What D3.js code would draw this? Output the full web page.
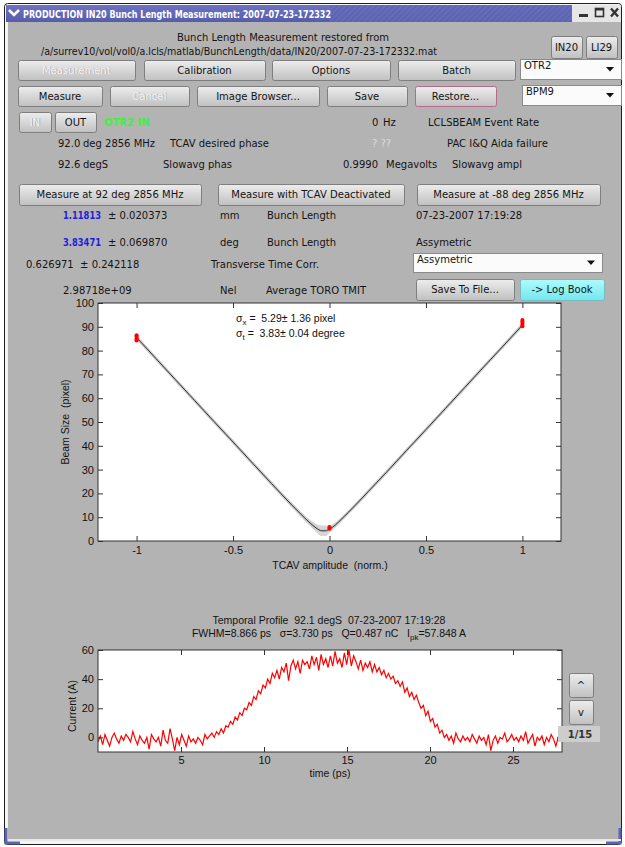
<!DOCTYPE html>
<html><head><meta charset="utf-8">
<script src="https://cdn.jsdelivr.net/npm/d3@7"></script>
<style>body{margin:0;background:#fff;} svg{display:block;} text{white-space:pre;}</style>
</head><body><svg id="c" width="625" height="847"></svg>
<script>
// ---------------- DATA ----------------
// Beam size vs TCAV amplitude (fit curve)
const fitX = [-1,-0.9,-0.8,-0.7,-0.6,-0.5,-0.4,-0.3,-0.2,-0.15,-0.1,-0.07,-0.04,-0.02,0,0.03,0.06,0.1,0.15,0.2,0.3,0.4,0.5,0.6,0.7,0.8,0.9,1];
const fitY = [85.5,76.7,67.9,59.1,50.3,41.6,32.8,24.1,15.5,11.4,7.5,5.5,4.3,4.3,5.0,6.7,9.0,12.2,16.4,20.7,29.3,38.1,46.8,55.6,64.4,73.2,81.9,90.7];
const fitErr = [0.8,0.8,0.8,0.8,0.8,0.8,0.8,0.9,1.0,1.1,1.3,1.7,2.2,2.2,1.5,1.1,0.9,0.8,0.8,0.8,0.8,0.8,0.8,0.8,0.8,0.8,0.8,0.8];
const measX = [-1,-1,-1,-1,-1,0,0,0,1,1,1,1,1];
const measY = [84.2,84.8,85.3,85.9,86.4,5.1,5.5,5.9,90.2,90.9,91.6,92.2,92.9];
const beamXTicks = [-1,-0.5,0,0.5,1];
const beamYTicks = [0,10,20,30,40,50,60,70,80,90,100];

// Temporal profile: current (A), uniformly sampled
const profStart = 0, profStep = 0.14;
const profileY = [
 -3,1,-5,2,-2,-6,0,3,-1,-4,
 1,-2,2,0,-3,4,-1,-5,1,-2,
 -4,0,-8,2,-1,-3,0,-6,5,-2,
 -4,6,-1,-9,0,-5,2,-2,-6,1,
 -3,-1,-4,0,-2,-5,2,-1,1,3,
 0,4,2,6,3,8,7,11,9,14,
 12,17,15,20,19,24,22,28,26,32,
 30,36,34,40,37,44,41,46,40,48,
 45,51,39,49,53,47,52,44,53,50,
 52,47,56,50,55,46,57,50,54,48,
 56,49,59,51,54,48,58,50,60,49,
 56,52,47,53,46,51,48,52,45,50,
 45,48,43,46,41,44,40,42,37,39,
 35,38,31,34,28,31,26,29,24,20,
 22,15,18,11,13,7,9,3,5,0,
 2,-2,1,-4,3,-1,-3,1,-2,0,
 -3,2,-1,-4,1,-2,0,-5,2,-9,
 -2,1,-4,0,-1,3,-3,-1,2,-2,
 0,-3,1,-2,4,-4,-1,2,-6,0,
 -2,1,-5,0,-3,2,-1,-6,0,-2];
const timeTicks = [5,10,15,20,25];
const currentTicks = [0,20,40,60];

// ---------------- DRAW ----------------
const svg = d3.select("#c");
const FONT = "DejaVu Sans, sans-serif";
const PFONT = "Liberation Sans, Arial, sans-serif";
const defs = svg.append("defs");
function grad(id,c1,c2){const g=defs.append("linearGradient").attr("id",id).attr("x1",0).attr("y1",0).attr("x2",0).attr("y2",1);
 g.append("stop").attr("offset","0%").attr("stop-color",c1);g.append("stop").attr("offset","100%").attr("stop-color",c2);}
grad("btn","#ededed","#c0c0c0");
grad("cyan","#b0fbfb","#70e8ef");
grad("ttl","#6d73c2","#555daa");
const pat = defs.append("pattern").attr("id","hatch").attr("width",4).attr("height",4)
 .attr("patternUnits","userSpaceOnUse").attr("patternTransform","rotate(45)");
pat.append("rect").attr("width",4).attr("height",4).attr("fill","#5d64b3");
pat.append("line").attr("x1",0).attr("y1",0).attr("x2",0).attr("y2",4).attr("stroke","#7d83c8").attr("stroke-width",1);

function txt(x,y,s,o={}){const t=svg.append("text").attr("x",x).attr("y",y)
 .attr("font-family",o.ff||FONT).attr("font-size",o.fs||10).attr("fill",o.fill||"#141414")
 .attr("text-anchor",o.anchor||"start").attr("font-weight",o.fw||"normal").text(s);
 if(o.len) t.attr("textLength",o.len).attr("lengthAdjust","spacingAndGlyphs"); return t;}
function btn(x,y,w,h,label,o={}){
 svg.append("rect").attr("x",x+0.5).attr("y",y+0.5).attr("width",w).attr("height",h).attr("rx",2)
  .attr("fill",o.fill||"url(#btn)").attr("stroke",o.stroke||"#7e7e7e");
 if(o.disabled){txt(x+w/2+0.7,y+h/2+4.3,label,{anchor:"middle",fill:"#a0a0a0"});
  txt(x+w/2,y+h/2+3.6,label,{anchor:"middle",fill:"#f4f4f4"});}
 else txt(x+w/2,y+h/2+3.6,label,{anchor:"middle"});}
function dd(x,y,w,h,label){
 svg.append("rect").attr("x",x+0.5).attr("y",y+0.5).attr("width",w).attr("height",h).attr("fill","#fbfbfb").attr("stroke","#8a8a8a");
 txt(x+4,y+10,label);
 svg.append("path").attr("d",`M${x+w-15},${y+h/2-2}h8l-4,4.5z`).attr("fill","#111");}

// window frame and body
svg.append("rect").attr("x",4.5).attr("y",3.5).attr("width",617).attr("height",841).attr("rx",3).attr("fill","#f4f4f4").attr("stroke","#1e1e1e");
svg.append("rect").attr("x",8).attr("y",22).attr("width",613).attr("height",817).attr("fill","#b3b3b3");
svg.append("rect").attr("x",6).attr("y",5).attr("width",566).attr("height",17).attr("fill","url(#ttl)");
svg.append("rect").attr("x",330).attr("y",5).attr("width",242).attr("height",17).attr("fill","url(#hatch)").attr("opacity",0.8);
svg.append("rect").attr("x",572).attr("y",5).attr("width",49).attr("height",17).attr("fill","#e6e6e6");
svg.append("path").attr("d","M9,10l5,5l5,-5").attr("fill","none").attr("stroke","#fff").attr("stroke-width",2.6);
txt(23,18,"PRODUCTION IN20 Bunch Length Measurement: 2007-07-23-172332",{fill:"#fff",fw:"bold",fs:10,len:308});
svg.append("rect").attr("x",579).attr("y",14).attr("width",9).attr("height",3).attr("fill","#333");
svg.append("rect").attr("x",595.5).attr("y",8.5).attr("width",8).attr("height",8).attr("fill","none").attr("stroke","#333").attr("stroke-width",1.6);
svg.append("rect").attr("x",595).attr("y",8).attr("width",9).attr("height",2.5).attr("fill","#333");
svg.append("path").attr("d","M611,8.5l7,8M618,8.5l-7,8").attr("stroke","#333").attr("stroke-width",2.4);
svg.append("path").attr("d","M6,828v15h14").attr("fill","none").attr("stroke","#5d64b3").attr("stroke-width",3);
svg.append("path").attr("d","M606,843h14v-15").attr("fill","none").attr("stroke","#5d64b3").attr("stroke-width",3);
svg.append("rect").attr("x",8).attr("y",839).attr("width",613).attr("height",2).attr("fill","#e8e8e8");

// header text
txt(283,41,"Bunch Length Measurement restored from",{anchor:"middle"});
txt(41,55,"/a/surrev10/vol/vol0/a.lcls/matlab/BunchLength/data/IN20/2007-07-23-172332.mat",{len:396});
btn(551,36,31,22,"IN20");btn(586,36,31,22,"LI29");

// button rows
btn(18,60,117,20,"Measurement",{disabled:true});
btn(144,60,121,20,"Calibration");
btn(272,60,118,20,"Options");
btn(398,60,117,20,"Batch");
dd(520,59,101,20,"OTR2");
btn(18,86,84,20,"Measure");
btn(110,86,79,20,"Cancel",{disabled:true});
btn(197,86,122,20,"Image Browser...");
btn(327,86,80,20,"Save");
btn(415,86,81,20,"Restore...",{stroke:"#b86a8c"});
dd(522,85,99,20,"BPM9");

btn(19,112,32,20,"IN",{disabled:true});
btn(55,112,41,20,"OUT");
txt(104,126,"OTR2 IN",{fill:"#3ef03e",fw:"bold"});
txt(372,126,"0");txt(383,126,"Hz");
txt(428,126,"LCLSBEAM Event Rate");

txt(58,147,"92.0");txt(83,147,"deg 2856 MHz");txt(170,147,"TCAV desired phase");
txt(372,147,"? ??",{fill:"#dcdcdc"});txt(447,147,"PAC I&Q Aida failure");
txt(58,168,"92.6");txt(83,168,"degS");txt(163,168,"Slowavg phas");
txt(343,168,"0.9990");txt(386,168,"Megavolts");txt(452,168,"Slowavg ampl");

btn(19,184,182,21,"Measure at 92 deg 2856 MHz");
btn(218,184,186,21,"Measure with TCAV Deactivated");
btn(417,184,183,21,"Measure at -88 deg 2856 MHz");

txt(63,219,"1.11813",{fill:"#1f1fd8",fw:"bold",len:38});txt(108,219,"± 0.020373");
txt(220,219,"mm");txt(267,219,"Bunch Length");txt(416,219,"07-23-2007 17:19:28");
txt(63,246,"3.83471",{fill:"#1f1fd8",fw:"bold",len:38});txt(108,246,"± 0.069870");
txt(220,246,"deg");txt(267,246,"Bunch Length");txt(416,246,"Assymetric");
txt(26,268,"0.626971  ± 0.242118");txt(211,268,"Transverse Time Corr.");
dd(413,253,189,19,"Assymetric");
txt(63,294,"2.98718e+09");txt(220,294,"Nel");txt(266,294,"Average TORO TMIT");
btn(416,279,98,21,"Save To File...");
btn(520,279,84,21,"-> Log Book",{fill:"url(#cyan)",stroke:"#7fb8bd"});

// ---------- Plot 1: Beam size ----------
const p1={l:98,r:561,t:303,b:541};
const x1=d3.scaleLinear().domain([-1.2,1.2]).range([p1.l,p1.r]);
const y1=d3.scaleLinear().domain([0,100]).range([p1.b,p1.t]);
svg.append("rect").attr("x",p1.l).attr("y",p1.t).attr("width",p1.r-p1.l).attr("height",p1.b-p1.t).attr("fill","#fff");
const fitData=fitX.map((x,i)=>({x,y:fitY[i],e:fitErr[i]}));
svg.append("path").datum(fitData).attr("fill","#d6d6d6")
 .attr("d",d3.area().x(d=>x1(d.x)).y0(d=>y1(d.y-d.e)).y1(d=>y1(d.y+d.e)).curve(d3.curveMonotoneX));
svg.append("path").datum(fitData).attr("fill","none").attr("stroke","#c8c8c8").attr("stroke-width",3)
 .attr("d",d3.line().x(d=>x1(d.x)).y(d=>y1(d.y)).curve(d3.curveMonotoneX));
svg.append("path").datum(fitData).attr("fill","none").attr("stroke","#222").attr("stroke-width",0.9)
 .attr("d",d3.line().x(d=>x1(d.x)).y(d=>y1(d.y)).curve(d3.curveMonotoneX));
svg.append("g").selectAll("circle").data(measX.map((x,i)=>({x,y:measY[i]}))).join("circle")
 .attr("cx",d=>x1(d.x)).attr("cy",d=>y1(d.y)).attr("r",2).attr("fill","#f00");

function styleAxis(g){g.select(".domain").remove();g.selectAll("line").attr("stroke","#333");
 g.selectAll("text").attr("font-family",PFONT).attr("font-size",11).attr("fill","#111");}
const fmt=d=>String(d);
svg.append("g").attr("transform",`translate(0,${p1.b})`).call(d3.axisBottom(x1).tickValues(beamXTicks).tickSize(-5).tickPadding(5).tickFormat(fmt)).call(styleAxis);
svg.append("g").attr("transform",`translate(0,${p1.t})`).call(d3.axisTop(x1).tickValues(beamXTicks).tickSize(-5).tickFormat("")).call(styleAxis);
svg.append("g").attr("transform",`translate(${p1.l},0)`).call(d3.axisLeft(y1).tickValues(beamYTicks).tickSize(-5).tickPadding(4).tickFormat(fmt)).call(styleAxis);
svg.append("g").attr("transform",`translate(${p1.r},0)`).call(d3.axisRight(y1).tickValues(beamYTicks).tickSize(-5).tickFormat("")).call(styleAxis);
svg.append("rect").attr("x",p1.l).attr("y",p1.t).attr("width",p1.r-p1.l).attr("height",p1.b-p1.t).attr("fill","none").attr("stroke","#333");

function sig(x,y,sub,rest){const t=svg.append("text").attr("x",x).attr("y",y).attr("font-family",PFONT).attr("font-size",10.5).attr("fill","#111");
 t.append("tspan").text("σ");t.append("tspan").attr("dy",3).attr("font-size",8).text(sub);t.append("tspan").attr("dy",-3).text(" =  "+rest);}
sig(236,322,"x","5.29± 1.36 pixel");
sig(236,337,"t","3.83± 0.04 degree");
txt(330,569,"TCAV amplitude  (norm.)",{ff:PFONT,fs:10.5,anchor:"middle"});
txt(0,0,"Beam Size  (pixel)",{ff:PFONT,fs:10.5,anchor:"middle"}).attr("transform","translate(69,422) rotate(-90)");

// ---------- Plot 2: Temporal profile ----------
const p2={l:98,r:562,t:650,b:752};
const x2=d3.scaleLinear().domain([0,27.95]).range([p2.l,p2.r]);
const y2=d3.scaleLinear().domain([-10,60]).range([p2.b,p2.t]);
svg.append("rect").attr("x",p2.l).attr("y",p2.t).attr("width",p2.r-p2.l).attr("height",p2.b-p2.t).attr("fill","#fff");
defs.append("clipPath").attr("id","clip2").append("rect").attr("x",p2.l).attr("y",p2.t).attr("width",p2.r-p2.l).attr("height",p2.b-p2.t);
const prof=profileY.map((v,i)=>({t:profStart+i*profStep,v}));
svg.append("path").datum(prof).attr("clip-path","url(#clip2)").attr("fill","none").attr("stroke","#f00").attr("stroke-width",1.2)
 .attr("d",d3.line().x(d=>x2(d.t)).y(d=>y2(d.v)));
svg.append("g").attr("transform",`translate(0,${p2.b})`).call(d3.axisBottom(x2).tickValues(timeTicks).tickSize(-5).tickPadding(4).tickFormat(fmt)).call(styleAxis);
svg.append("g").attr("transform",`translate(0,${p2.t})`).call(d3.axisTop(x2).tickValues(timeTicks).tickSize(-5).tickFormat("")).call(styleAxis);
svg.append("g").attr("transform",`translate(${p2.l},0)`).call(d3.axisLeft(y2).tickValues(currentTicks).tickSize(-5).tickPadding(4).tickFormat(fmt)).call(styleAxis);
svg.append("g").attr("transform",`translate(${p2.r},0)`).call(d3.axisRight(y2).tickValues(currentTicks).tickSize(-5).tickFormat("")).call(styleAxis);
svg.append("rect").attr("x",p2.l).attr("y",p2.t).attr("width",p2.r-p2.l).attr("height",p2.b-p2.t).attr("fill","none").attr("stroke","#333");
txt(329,624,"Temporal Profile  92.1 degS  07-23-2007 17:19:28",{ff:PFONT,fs:10.5,anchor:"middle"});
const t2=svg.append("text").attr("x",329).attr("y",637).attr("font-family",PFONT).attr("font-size",10.5).attr("fill","#111").attr("text-anchor","middle");
t2.append("tspan").text("FWHM=8.866 ps   σ=3.730 ps   Q=0.487 nC   I");
t2.append("tspan").attr("dy",3).attr("font-size",8).text("pk");
t2.append("tspan").attr("dy",-3).text("=57.848 A");
txt(330,777,"time (ps)",{ff:PFONT,fs:10.5,anchor:"middle"});
txt(0,0,"Current (A)",{ff:PFONT,fs:10.5,anchor:"middle"}).attr("transform","translate(76,706) rotate(-90)");

// paging controls
btn(569,673,24,24,"^");
btn(569,700,24,24,"v");
svg.append("rect").attr("x",558).attr("y",726).attr("width",42).attr("height",16).attr("fill","#cdcdcd");
txt(580,738,"1/15",{anchor:"middle",fw:"bold",fill:"#333"});
</script></body></html>
